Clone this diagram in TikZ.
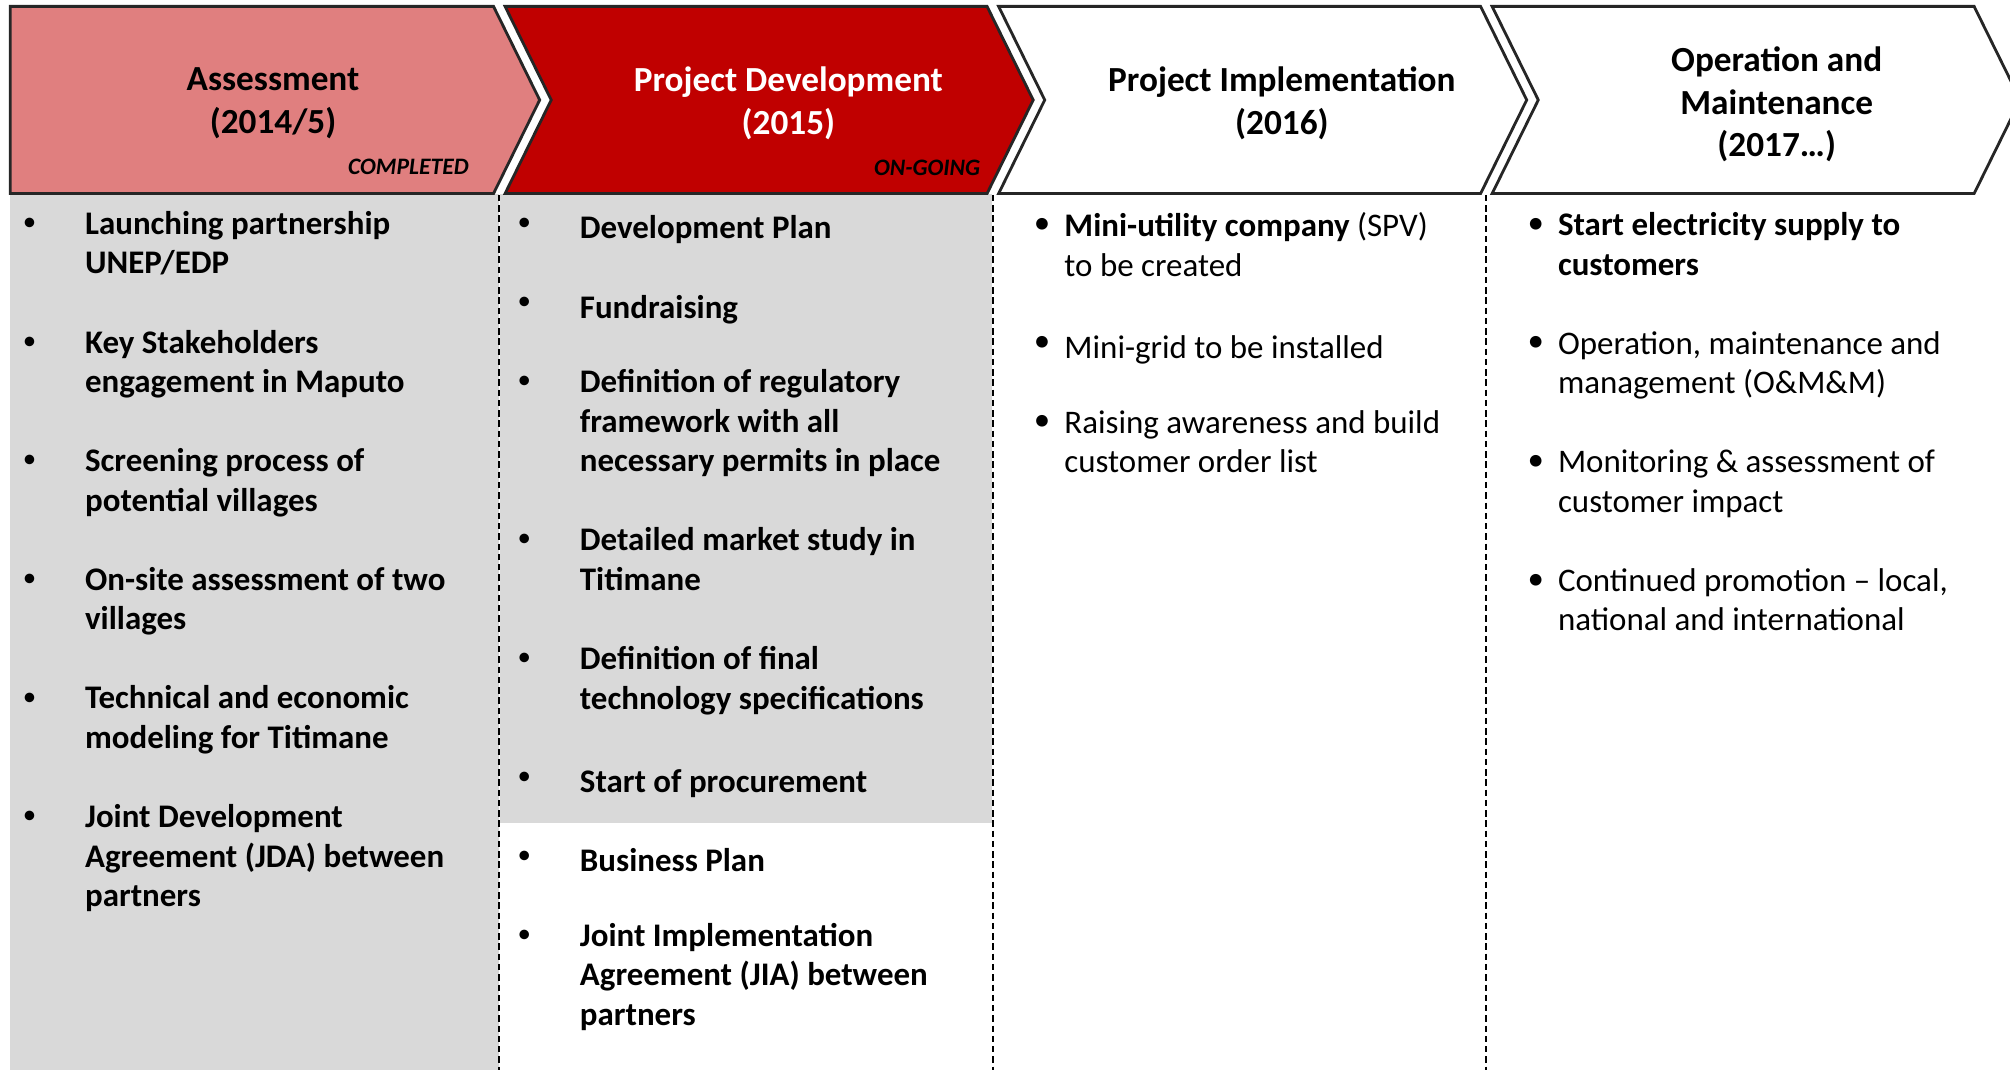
\documentclass[tikz,border=0pt]{standalone}
\usepackage{fontspec}
\setmainfont{Carlito}
\usetikzlibrary{positioning}
\definecolor{assess}{HTML}{E07F7F}
\definecolor{devred}{HTML}{C00000}
\definecolor{panel}{HTML}{D9D9D9}
\tikzset{
  chev/.style={draw=black!85, line width=1.1pt, line join=miter},
  head/.style={align=center, font=\fontsize{13.75}{16.5}\selectfont\bfseries},
  stat/.style={anchor=east, inner sep=0pt, font=\fontsize{9.2}{10}\selectfont\bfseries\itshape},
  itm/.style={anchor=north west, inner sep=0pt, align=left, yshift=5.3pt,
    font=\fontsize{12.85}{15.43}\selectfont, execute at begin node=\strut},
  bitm/.style={itm, font=\fontsize{12.85}{15.43}\selectfont\bfseries},
  dot/.style={inner sep=0pt, font=\fontsize{10.5}{12}\selectfont},
  bigdot/.style={inner sep=0pt, font=\fontsize{12.85}{15}\selectfont},
  sep/.style={line width=0.8pt, dash pattern=on 2.5pt off 1.5pt}
}

\begin{document}
\begin{tikzpicture}[x=0.5pt,y=-0.5pt]
  \useasboundingbox (0,0) rectangle (1568,835);
  \clip (0,0) rectangle (1568,835);
  % grey backgrounds of the first two phases
  \fill[panel] (8,151) rectangle (389,835);
  \fill[panel] (390,151) rectangle (774,642);
  % phase arrows
  \draw[chev, fill=assess] (8,5) -- (385,5) -- (421,78) -- (385,151) -- (8,151) -- cycle;
  \draw[chev, fill=devred] (394,5) -- (770,5) -- (806,78) -- (770,151) -- (394,151) -- (430,78) -- cycle;
  \draw[chev, fill=white] (779,5) -- (1155,5) -- (1191,78) -- (1155,151) -- (779,151) -- (815,78) -- cycle;
  \draw[chev, fill=white] (1164,5) -- (1540,5) -- (1576,78) -- (1540,151) -- (1164,151) -- (1200,78) -- cycle;
  \node[head] (hass) at (213,80.5) {Assessment\\(2014/5)};
  \node[head, text=white] (hdev) at (615,80.5) {Project Development\\(2015)};
  \node[head] (himp) at (1000,80.5) {Project Implementation\\(2016)};
  \node[head] (hop) at (1386,81.5) {Operation and\\Maintenance\\(2017…)};
  \node[stat] (done) at (366,130) {COMPLETED};
  \node[stat] (going) at (765,131) {ON-GOING};
  % column separators
  \draw[sep] (389.5,152) -- (389.5,835);
  \draw[sep] (774.5,152) -- (774.5,835);
  \draw[sep] (1159.5,152) -- (1159.5,835);
  % assessment
  \node[dot] (a1d) at (23,175) {\textbullet};
  \node[bitm] (a1) at (66,175) {Launching partnership\\UNEP/EDP};
  \node[dot] (a2d) at (23,267.6) {\textbullet};
  \node[bitm] (a2) at (66,267.6) {Key Stakeholders\\engagement in Maputo};
  \node[dot] (a3d) at (23,360.1) {\textbullet};
  \node[bitm] (a3) at (66,360.1) {Screening process of\\potential villages};
  \node[dot] (a4d) at (23,452.7) {\textbullet};
  \node[bitm] (a4) at (66,452.7) {On-site assessment of two\\villages};
  \node[dot] (a5d) at (23,545.2) {\textbullet};
  \node[bitm] (a5) at (66,545.2) {Technical and economic\\modeling for Titimane};
  \node[dot] (a6d) at (23,637.8) {\textbullet};
  \node[bitm] (a6) at (66,637.8) {Joint Development\\Agreement (JDA) between\\partners};
  % development
  \node[dot] (d1d) at (409,175) {\textbullet};
  \node[bitm] (d1) at (452,175) {Development Plan};
  \node[dot] (d2d) at (409,236.7) {\textbullet};
  \node[bitm] (d2) at (452,236.7) {Fundraising};
  \node[dot] (d3d) at (409,298.4) {\textbullet};
  \node[bitm] (d3) at (452,298.4) {Definition of regulatory\\framework with all\\necessary permits in place};
  \node[dot] (d4d) at (409,421.8) {\textbullet};
  \node[bitm] (d4) at (452,421.8) {Detailed market study in\\Titimane};
  \node[dot] (d5d) at (409,514.4) {\textbullet};
  \node[bitm] (d5) at (452,514.4) {Definition of final\\technology specifications};
  \node[dot] (d6d) at (409,606.9) {\textbullet};
  \node[bitm] (d6) at (452,606.9) {Start of procurement};
  \node[dot] (d7d) at (409,668.6) {\textbullet};
  \node[bitm] (d7) at (452,668.6) {Business Plan};
  \node[dot] (d8d) at (409,730.3) {\textbullet};
  \node[bitm] (d8) at (452,730.3) {Joint Implementation\\Agreement (JIA) between\\partners};
  % implementation
  \node[bigdot] (i1d) at (813,176) {\textbullet};
  \node[itm] (i1) at (830,176) {\textbf{Mini-utility company} (SPV)\\to be created};
  \node[bigdot] (i2d) at (813,268.6) {\textbullet};
  \node[itm] (i2) at (830,268.6) {Mini-grid to be installed};
  \node[bigdot] (i3d) at (813,330.3) {\textbullet};
  \node[itm] (i3) at (830,330.3) {Raising awareness and build\\customer order list};
  % operation
  \node[bigdot] (o1d) at (1198,176) {\textbullet};
  \node[bitm] (o1) at (1215,176) {Start electricity supply to\\customers};
  \node[bigdot] (o2d) at (1198,268.6) {\textbullet};
  \node[itm] (o2) at (1215,268.6) {Operation, maintenance and\\management (O\&M\&M)};
  \node[bigdot] (o3d) at (1198,361.1) {\textbullet};
  \node[itm] (o3) at (1215,361.1) {Monitoring \& assessment of\\customer impact};
  \node[bigdot] (o4d) at (1198,453.7) {\textbullet};
  \node[itm] (o4) at (1215,453.7) {Continued promotion – local,\\national and international};
\end{tikzpicture}
\end{document}
